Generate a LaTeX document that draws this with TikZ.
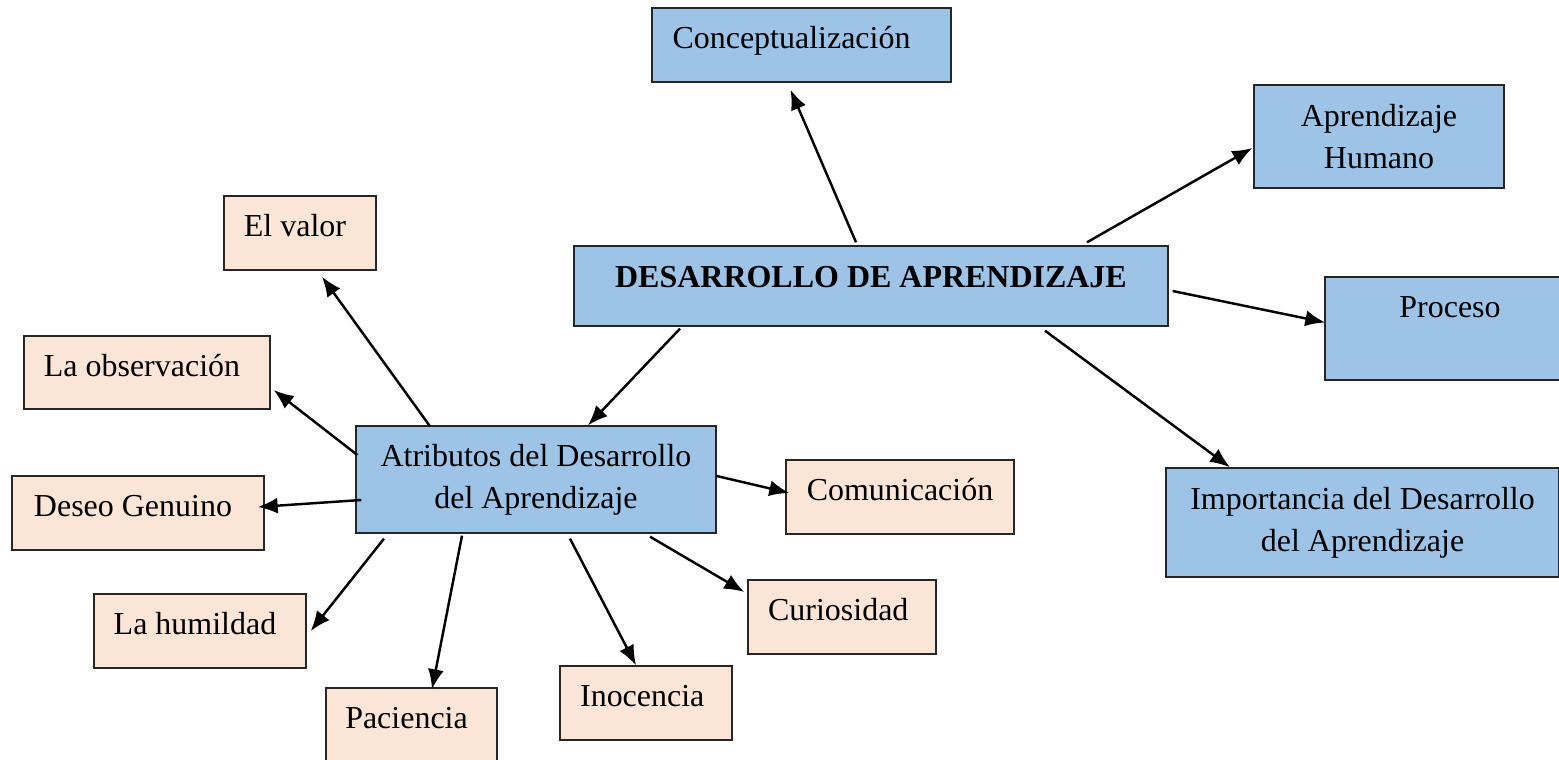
\documentclass[tikz,border=0pt]{standalone}
\usepackage{fontspec}
\setmainfont{Liberation Serif}
\usetikzlibrary{arrows.meta,calc}
\definecolor{azul}{HTML}{9DC3E6}
\definecolor{durazno}{HTML}{FBE5D6}
\definecolor{borde}{HTML}{262626}

\begin{document}
\begin{tikzpicture}[x=0.02cm,y=-0.02cm,font=\fontsize{18.2}{23.9}\selectfont,>={Latex[length=0.4cm,width=0.32cm]}]

\tikzstyle{bl} = [rectangle, draw=borde, line width=0.8pt, fill=azul, inner sep=2pt, text centered]
\tikzstyle{pe} = [rectangle, draw=borde, line width=0.8pt, fill=durazno, inner sep=2pt, text centered, minimum height=1.48cm, text height=13pt, text depth=9pt]
\tikzstyle{ar} = [->, line width=1.4pt]

\useasboundingbox (0,0) rectangle (1559,760);
\fill[white] (0,0) rectangle (1559,760);

% blue boxes
\node (dev) [bl, minimum width=11.88cm, minimum height=1.6cm, text height=13pt, text depth=11pt] at (871,286) {\bfseries DESARROLLO DE APRENDIZAJE};
\node (conc) [bl, minimum width=5.98cm, minimum height=1.48cm, text height=13pt, text depth=9pt] at (801.5,45) {Conceptualización\hspace*{0.4cm}};
\node (aprh) [bl, minimum width=5cm, minimum height=2.06cm, align=center] at (1379,136.5) {Aprendizaje\\Humano};
\node (proc) [bl, minimum width=4.8cm, minimum height=2.06cm, text height=13pt, text depth=25pt] at (1445,328.5) {\hspace*{0.2cm}Proceso};
\node (imp) [bl, minimum width=7.86cm, minimum height=2.18cm, align=center] at (1362.5,522.5) {Importancia del Desarrollo\\del Aprendizaje};
\node (atr) [bl, minimum width=7.2cm, minimum height=2.14cm, align=center] at (536,479.5) {Atributos del Desarrollo\\del Aprendizaje};

% peach boxes
\node (valor) [pe, minimum width=3.04cm] at (300,233) {El valor\hspace*{0.2cm}};
\node (obs) [pe, minimum width=4.92cm, minimum height=1.46cm] at (147,372.5) {La observación\hspace*{0.2cm}};
\node (deseo) [pe, minimum width=5.04cm] at (138,513) {Deseo Genuino\hspace*{0.2cm}};
\node (comu) [pe, minimum width=4.56cm] at (900,497) {Comunicación};
\node (humil) [pe, minimum width=4.24cm] at (200,631) {La humildad\hspace*{0.2cm}};
\node (curio) [pe, minimum width=3.76cm] at (842,617) {Curiosidad\hspace*{0.15cm}};
\node (pac) [pe, minimum width=3.42cm] at (411.5,725) {Paciencia\hspace*{0.2cm}};
\node (inoc) [pe, minimum width=3.44cm] at (646,703) {Inocencia\hspace*{0.15cm}};

% arrows from the main box
\draw[ar] ($(dev.north)+(-15,-3)$) -- ($(conc.south)+(-11,7)$);
\draw[ar] ($(dev.north)+(216,-3)$) -- ($(aprh.west)+(-1,11.5)$);
\draw[ar] ($(dev.east)+(4,5)$) -- ($(proc.west)+(1,-6)$);
\draw[ar] ($(dev.south)+(174,4)$) -- ($(imp.north)+(-132.5,0)$);
\draw[ar] ($(dev.south)+(-191,2)$) -- ($(atr.north)+(52,0)$);

% arrows from the attributes box
\draw[ar] ($(atr.north)+(-106,1)$) -- ($(valor.south)+(22,6)$);
\draw[ar] ($(atr.west)+(2,-24.5)$) -- ($(obs.east)+(3,17.5)$);
\draw[ar] ($(atr.west)+(6,20.5)$) -- ($(deseo.east)+(-7,-6)$);
\draw[ar] ($(atr.south)+(-152,5)$) -- ($(humil.east)+(4,0)$);
\draw[ar] ($(atr.south)+(-74,2)$) -- ($(pac.north)+(20.5,2)$);
\draw[ar] ($(atr.south)+(34,5)$) -- ($(inoc.north)+(-10,0)$);
\draw[ar] ($(atr.south)+(114,3)$) -- ($(curio.west)+(-3,-25)$);
\draw[ar] ($(atr.east)+(0,-3.5)$) -- ($(comu.west)+(4,-4)$);
\end{tikzpicture}
\end{document}
